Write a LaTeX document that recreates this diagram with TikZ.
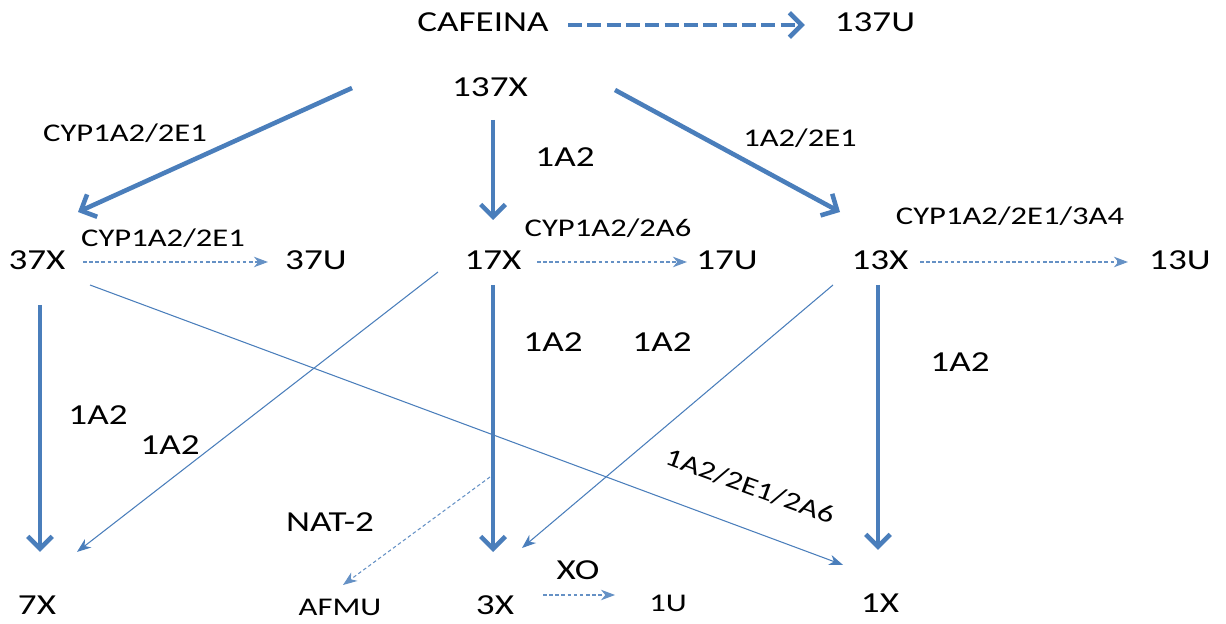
\documentclass[tikz,border=0pt]{standalone}
\usepackage{fontspec}
\setmainfont{Carlito}[FakeStretch=1.28]
\usetikzlibrary{arrows.meta,calc,positioning}
\definecolor{pathblue}{RGB}{74,126,187}
\begin{document}
\begin{tikzpicture}[
  x=0.02cm, y=-0.02cm,
  met/.style={inner sep=0pt, font=\fontsize{16.5}{19}\selectfont},
  enz/.style={inner sep=0pt, font=\fontsize{14.5}{17}\selectfont},
  major/.style={draw=pathblue, line width=2.6pt, -{Straight Barb[length=7pt,width=14pt]}},
  minor/.style={draw=pathblue, line width=0.6pt, -{Stealth[length=8pt,width=6pt,inset=2.5pt]}},
  side/.style={minor, draw=pathblue!85, dash pattern=on 2pt off 1.5pt}
]
\useasboundingbox (0,0) rectangle (1226,624);

% metabolites
\node[met] (caf) at (483,22) {CAFEINA};
\node[met, right of=caf, node distance=7.84cm] (u137) {137U};
\node[met] (x137) at (490,87) {137X};
\node[met] (x37) at (37,260) {37X};
\node[met, right of=x37, node distance=5.58cm] (u37) {37U};
\node[met] (x17) at (493,260) {17X};
\node[met, right of=x17, node distance=4.68cm] (u17) {17U};
\node[met] (x13) at (880,260) {13X};
\node[met, right of=x13, node distance=6cm] (u13) {13U};
\node[met, below of=x37, node distance=6.9cm] (x7) {7X};
\node[met] (x3) at (495,605) {3X};
\node[met, below of=x13, node distance=6.86cm] (x1) {1X};
\node[enz] (u1) at (668,603) {1U};
\node[enz] (afmu) at (340,607) {AFMU};

% enzymes
\node[enz] (e1) at (125,133) {CYP1A2/2E1};
\node[met] (e2) at (565,157) {1A2};
\node[enz] (e3) at (800,138) {1A2/2E1};
\node[enz] (e4) at (163,238) {CYP1A2/2E1};
\node[enz] (e5) at (608,228) {CYP1A2/2A6};
\node[enz] (e6) at (1010,216) {CYP1A2/2E1/3A4};
\node[met] (e7) at (553,342) {1A2};
\node[met] (e8) at (662,342) {1A2};
\node[met] (e9) at (960,362) {1A2};
\node[met] (e10) at (98,415) {1A2};
\node[met] (e11) at (170,445) {1A2};
\node[enz, rotate=-20] (e12) at (750,486) {1A2/2E1/2A6};
\node[met] (e13) at (330,522) {NAT-2};
\node[met] (e14) at (578,570) {XO};

% pathways
\draw[major, dash pattern=on 8pt off 3pt] ($(caf)+(85,3)$) -- ($(u137)+(-70,3)$);
\draw[major] ($(x137)+(-138,1)$) -- ($(x37)+(41,-48)$);
\draw[major] ($(x137)+(3,33)$) -- ($(x17)+(0,-40)$);
\draw[major] ($(x137)+(125,3)$) -- ($(x13)+(-40,-48)$);
\draw[side] ($(x37)+(46,2)$) -- ($(u37)+(-48,2)$);
\draw[side] ($(x17)+(44,2)$) -- ($(u17)+(-40,2)$);
\draw[side] ($(x13)+(40,2)$) -- ($(u13)+(-52,2)$);
\draw[major] ($(x37)+(3,45)$) -- ($(x7)+(3,-53)$);
\draw[minor] ($(x37)+(53,25)$) -- ($(x1)+(-37,-38)$);
\draw[minor] ($(x17)+(-55,12)$) -- ($(x7)+(40,-53)$);
\draw[major] ($(x17)+(0,25)$) -- ($(x3)+(-2,-53)$);
\draw[minor] ($(x13)+(-47,25)$) -- ($(x3)+(27,-57)$);
\draw[major] ($(x13)+(-2,25)$) -- ($(x1)+(-2,-53)$);
\draw[side] ($(x3)+(-5,-128)$) -- ($(afmu)+(3,-22)$);
\draw[side] ($(x3)+(48,-10)$) -- ($(u1)+(-53,-8)$);
\end{tikzpicture}
\end{document}
